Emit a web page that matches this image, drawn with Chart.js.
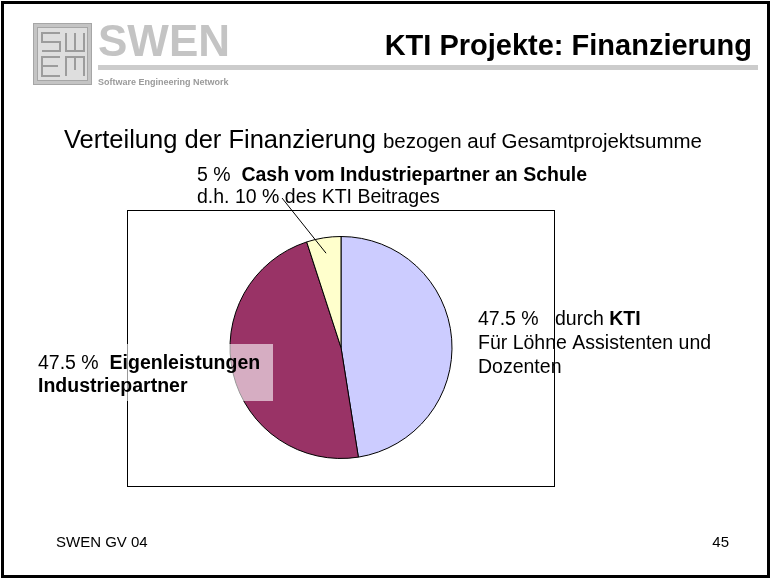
<!DOCTYPE html>
<html>
<head>
<meta charset="utf-8">
<script src="https://cdn.jsdelivr.net/npm/chart.js@4.4.1/dist/chart.umd.min.js"></script>
<style>
  html, body { margin: 0; padding: 0; background: #fff; }
  canvas { display: block; }
</style>
</head>
<body>
<canvas id="graficoFinanzierung" width="771" height="580"></canvas>
<script>
// Daten
const anteile = [47.5, 47.5, 5];
const kategorien = ['durch KTI', 'Eigenleistungen Industriepartner', 'Cash vom Industriepartner an Schule'];
const farben = ['#CCCCFF', '#993366', '#FFFFCC'];

const FONT = '"Liberation Sans", Arial, Helvetica, sans-serif';
const LABEL = 19.5;

function schreibe(ctx, teile, x, y) {
    // teile: [[text, bold, groesse], ...] nacheinander auf einer Zeile
    let cx = x;
    teile.forEach(function (t) {
        ctx.font = (t[1] ? 'bold ' : '') + t[2] + 'px ' + FONT;
        ctx.fillText(t[0], cx, y);
        cx += ctx.measureText(t[0]).width;
    });
}

function linie(ctx, punkte) {
    ctx.beginPath();
    ctx.moveTo(punkte[0][0], punkte[0][1]);
    for (let i = 1; i < punkte.length; i++) ctx.lineTo(punkte[i][0], punkte[i][1]);
    ctx.stroke();
}

const folie = {
    id: 'folie',
    beforeDraw: function (chart) {
        const ctx = chart.ctx;
        ctx.save();
        ctx.fillStyle = '#fff';
        ctx.fillRect(0, 0, 771, 580);

        // Logo
        ctx.fillStyle = '#c4c4c4';
        ctx.fillRect(33, 23, 59, 62);
        ctx.fillStyle = '#dedede';
        ctx.fillRect(37, 27, 51, 54);
        ctx.strokeStyle = '#a6a6a6';
        ctx.lineWidth = 1;
        ctx.strokeRect(33.5, 23.5, 58, 61);
        ctx.strokeRect(37.5, 27.5, 50, 53);
        ctx.strokeStyle = '#9c9c9c';
        ctx.lineWidth = 2;
        linie(ctx, [[60, 33], [42, 33], [42, 42], [60, 42], [60, 51], [42, 51]]);
        linie(ctx, [[66, 33], [66, 51], [84, 51], [84, 33]]);
        linie(ctx, [[75, 33], [75, 51]]);
        linie(ctx, [[60, 57], [42, 57], [42, 76], [60, 76]]);
        linie(ctx, [[42, 66], [58, 66]]);
        linie(ctx, [[66, 76], [66, 57], [84, 57], [84, 76]]);
        linie(ctx, [[75, 57], [75, 70]]);

        ctx.font = 'bold 44px ' + FONT;
        ctx.fillStyle = '#c4c4c4';
        ctx.fillText('SWEN', 98, 56);
        ctx.fillStyle = '#cccccc';
        ctx.fillRect(98, 65, 660, 5);
        ctx.font = 'bold 9px ' + FONT;
        ctx.fillStyle = '#9a9a9a';
        ctx.fillText('Software Engineering Network', 98, 85);

        // Titel
        ctx.fillStyle = '#000';
        ctx.font = 'bold 29px ' + FONT;
        ctx.textAlign = 'right';
        ctx.fillText('KTI Projekte: Finanzierung', 752, 55);
        ctx.textAlign = 'left';

        schreibe(ctx, [['Verteilung der Finanzierung ', false, 25.5], ['bezogen auf Gesamtprojektsumme', false, 20.5]], 64, 148);

        // Rahmen der Grafik
        ctx.strokeStyle = '#000';
        ctx.lineWidth = 1;
        ctx.strokeRect(127.5, 210.5, 427, 276);

        // Fusszeile
        ctx.font = '15px ' + FONT;
        ctx.fillText('SWEN GV 04', 56, 547);
        ctx.textAlign = 'right';
        ctx.fillText('45', 729, 547);
        ctx.textAlign = 'left';

        ctx.lineWidth = 3;
        ctx.strokeRect(2.5, 2.5, 766, 574);
        ctx.restore();
    },
    afterDraw: function (chart) {
        const ctx = chart.ctx;
        const bogen = chart.getDatasetMeta(0).data;
        ctx.save();
        ctx.fillStyle = '#000';
        ctx.textBaseline = 'alphabetic';

        // Beschriftung 5 %
        schreibe(ctx, [[anteile[2] + ' %  ', false, LABEL], [kategorien[2], true, LABEL]], 197, 181);
        schreibe(ctx, [['d.h. 10 % des KTI Beitrages', false, LABEL]], 197, 203);

        // Führungslinie zum kleinen Segment
        const p = bogen[2].getProps(['x', 'y', 'startAngle', 'endAngle', 'outerRadius']);
        const mitte = (p.startAngle + p.endAngle) / 2;
        ctx.strokeStyle = '#000';
        ctx.lineWidth = 1;
        ctx.beginPath();
        ctx.moveTo(282, 198);
        ctx.lineTo(p.x + Math.cos(mitte) * p.outerRadius * 0.86, p.y + Math.sin(mitte) * p.outerRadius * 0.86);
        ctx.stroke();

        // Beschriftung rechts
        schreibe(ctx, [[anteile[0] + ' %   ', false, LABEL], ['durch ', false, LABEL], ['KTI', true, LABEL]], 478, 325);
        schreibe(ctx, [['Für Löhne Assistenten und', false, LABEL]], 478, 349);
        schreibe(ctx, [['Dozenten', false, LABEL]], 478, 373);

        // Beschriftung links mit halbtransparentem Hintergrund
        ctx.fillStyle = 'rgba(255,255,255,0.6)';
        ctx.fillRect(30, 344, 243, 57);
        ctx.fillStyle = '#000';
        schreibe(ctx, [[anteile[1] + ' %  ', false, LABEL], ['Eigenleistungen', true, LABEL]], 38, 369);
        schreibe(ctx, [['Industriepartner', true, LABEL]], 38, 392);
        ctx.restore();
    }
};

new Chart(document.getElementById('graficoFinanzierung').getContext('2d'), {
    type: 'pie',
    data: {
        labels: kategorien,
        datasets: [{
            data: anteile,
            backgroundColor: farben,
            borderColor: '#000',
            borderWidth: 1
        }]
    },
    options: {
        responsive: false,
        animation: false,
        layout: { padding: { left: 227, right: 316, top: 236, bottom: 121 } },
        plugins: {
            legend: { display: false },
            tooltip: { enabled: false }
        }
    },
    plugins: [folie]
});
</script>
</body>
</html>
